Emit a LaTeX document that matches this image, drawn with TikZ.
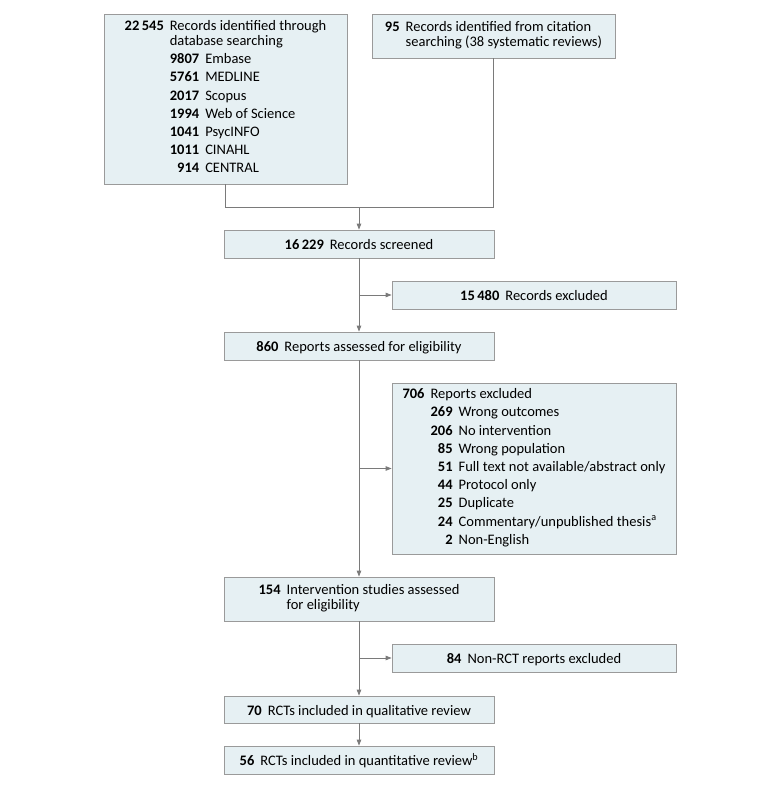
\documentclass[tikz,border=0pt]{standalone}
\usepackage{fontspec}
\setmainfont{Carlito}
\usetikzlibrary{arrows.meta}
\definecolor{boxfill}{HTML}{E6F0F3}
\definecolor{boxline}{HTML}{9A9A9A}
\definecolor{conn}{HTML}{7A7A7A}
\newcommand{\itemgap}{\\[3.7pt]}
\begin{document}
\begin{tikzpicture}[x=1pt,y=-1pt,
  flowbox/.style={draw=boxline,fill=boxfill,line width=0.8pt,inner sep=0pt,
    align=center,font=\fontsize{14.5}{14.5}\selectfont},
  onebox/.style={flowbox,text height=11pt,text depth=0pt},
  conline/.style={draw=conn,line width=0.8pt},
  conarrow/.style={conline,-{Triangle[length=6pt,width=4.5pt]}}]
\useasboundingbox (0,0) rectangle (780,787);
\node[flowbox,minimum width=243pt,minimum height=170pt] (A) at (225.5,99) {\raisebox{-2.5pt}{%
\begin{tabular}{@{}r@{\hspace{6pt}}l@{}}
\textbf{22\,545} & Records identified through\\
 & database searching\itemgap
 & \begin{tabular}[t]{@{}r@{\hspace{6pt}}l@{}}
   \textbf{9807} & Embase\itemgap
   \textbf{5761} & MEDLINE\itemgap
   \textbf{2017} & Scopus\itemgap
   \textbf{1994} & Web of Science\itemgap
   \textbf{1041} & PsycINFO\itemgap
   \textbf{1011} & CINAHL\itemgap
   \textbf{914} & CENTRAL
   \end{tabular}
\end{tabular}}};
\node[flowbox,minimum width=243pt,minimum height=44pt] (B) at (493.5,36) {\raisebox{-1.5pt}{%
\begin{tabular}{@{}r@{\hspace{6pt}}l@{}}
\textbf{95} & Records identified from citation\\
 & searching (38 systematic reviews)
\end{tabular}}};
\node[onebox,minimum width=270pt,minimum height=28pt] (C) at (359,244)
  {\textbf{16\,229}\hspace{6pt}Records screened};
\node[onebox,minimum width=284pt,minimum height=28pt] (E) at (534,295)
  {\textbf{15\,480}\hspace{6pt}Records excluded};
\node[onebox,minimum width=270pt,minimum height=28pt] (D) at (359,346)
  {\textbf{860}\hspace{6pt}Reports assessed for eligibility};
\node[flowbox,minimum width=284pt,minimum height=171pt] (F) at (534,468.5) {\raisebox{-4pt}{%
\begin{tabular}{@{}r@{\hspace{6pt}}l@{}}
\textbf{706} & Reports excluded\itemgap
 & \begin{tabular}[t]{@{}r@{\hspace{6pt}}l@{}}
   \textbf{269} & Wrong outcomes\itemgap
   \textbf{206} & No intervention\itemgap
   \textbf{85} & Wrong population\itemgap
   \textbf{51} & Full text not available/abstract only\itemgap
   \textbf{44} & Protocol only\itemgap
   \textbf{25} & Duplicate\itemgap
   \textbf{24} & Commentary/unpublished thesis\textsuperscript{a}\itemgap
   \textbf{2} & Non-English
   \end{tabular}
\end{tabular}}};
\node[flowbox,minimum width=270pt,minimum height=44pt] (G) at (359,599) {\raisebox{-2.5pt}{%
\begin{tabular}{@{}r@{\hspace{6pt}}l@{}}
\textbf{154} & Intervention studies assessed\\
 & for eligibility
\end{tabular}}};
\node[onebox,minimum width=284pt,minimum height=28pt] (H) at (534,658)
  {\textbf{84}\hspace{6pt}Non-RCT reports excluded};
\node[onebox,minimum width=270pt,minimum height=27pt] (I) at (359,709.5)
  {\textbf{70}\hspace{6pt}RCTs included in qualitative review};
\node[onebox,minimum width=270pt,minimum height=28pt] (J) at (359,760)
  {\textbf{56}\hspace{6pt}RCTs included in quantitative review\textsuperscript{b}};
\coordinate (merge) at (359,207);
\draw[conline] (A.south) -- (A.south |- merge) -- (B.south |- merge) -- (B.south);
\draw[conarrow] (merge) -- (C.north);
\draw[conarrow] (C.south) -- (D.north);
\draw[conarrow] (C.south |- E.west) -- (E.west);
\draw[conarrow] (D.south) -- (G.north);
\draw[conarrow] (D.south |- F.west) -- (F.west);
\draw[conarrow] (G.south) -- (I.north);
\draw[conarrow] (G.south |- H.west) -- (H.west);
\draw[conarrow] (I.south) -- (J.north);
\end{tikzpicture}
\end{document}
